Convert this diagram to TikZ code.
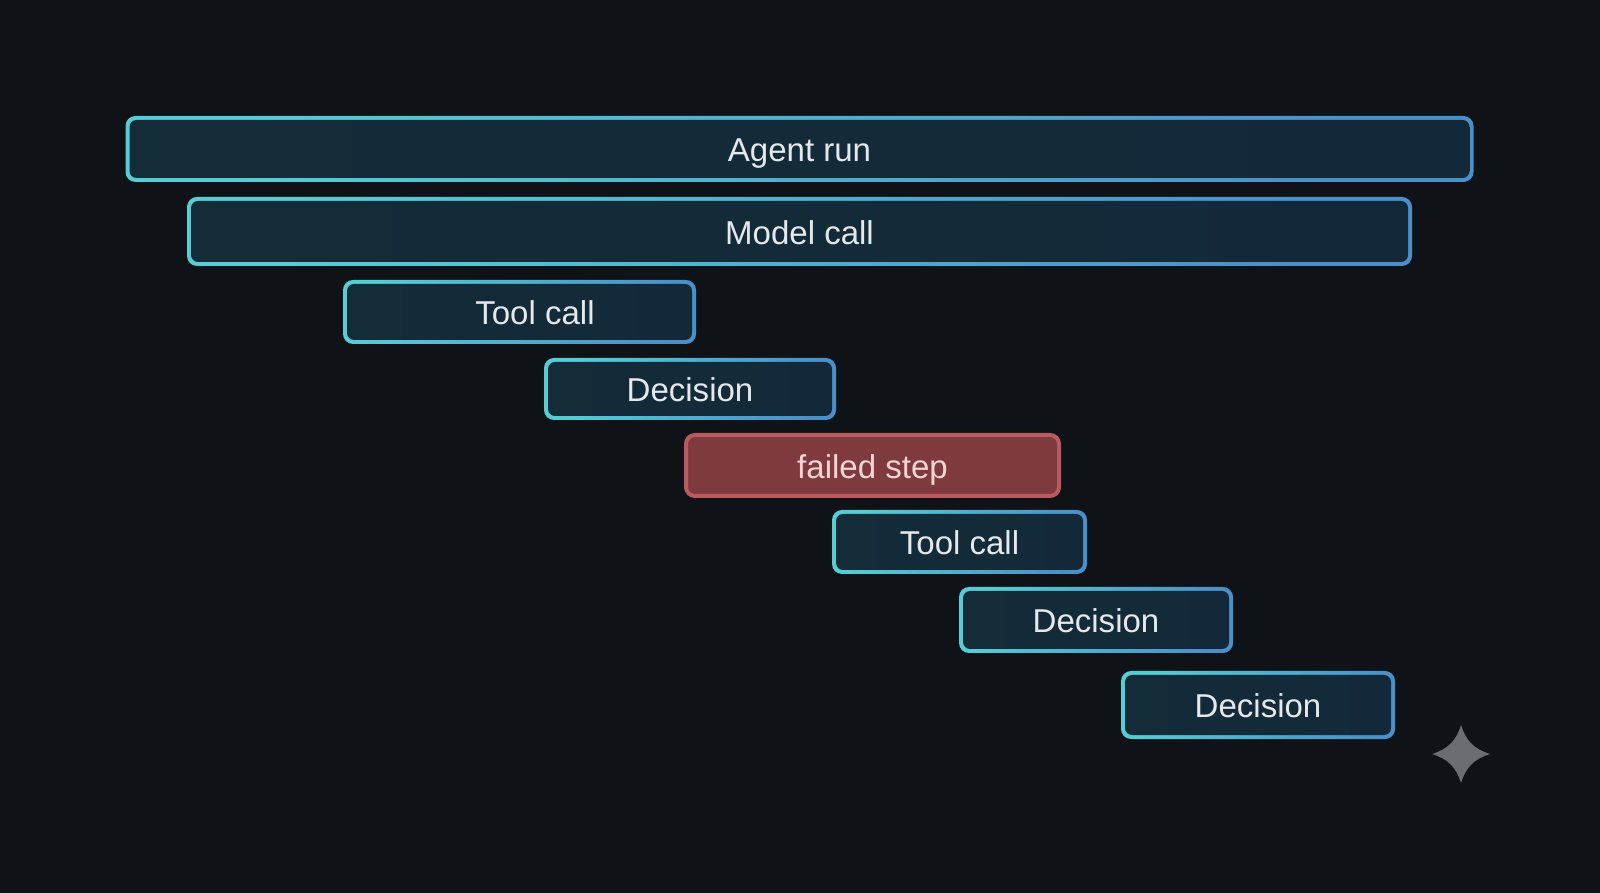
\documentclass[tikz,border=0pt]{standalone}
\usepackage{fontspec}
\setmainfont{Liberation Sans}
\usepackage{xcolor}
\usepackage{tikz}
\usetikzlibrary{calc}

\definecolor{pagebg}{HTML}{0F1318}
\definecolor{rimteal}{HTML}{55CDD4}
\definecolor{rimblue}{HTML}{4A90C8}
\definecolor{faceteal}{HTML}{132C38}
\definecolor{faceblue}{HTML}{13293A}
\definecolor{failface}{HTML}{7E3A3F}
\definecolor{failrim}{HTML}{B85A5F}
\definecolor{failtext}{HTML}{F5D5D3}
\definecolor{bartext}{HTML}{E6E9EC}
\definecolor{sparkle}{HTML}{6B6D73}

\begin{document}
\begin{tikzpicture}[font=\fontsize{9.4}{11}\selectfont, text height=7.2pt, text depth=0pt]
		\tikzstyle{bar} = [rectangle, rounded corners=0.1cm, inner sep=0, outer sep=0, text=bartext, left color=rimteal, right color=rimblue, shading angle=75,
			path picture={\shade[left color=faceteal, right color=faceblue, rounded corners=0.07cm] ([shift={(0.04,0.04)}]path picture bounding box.south west) rectangle ([shift={(-0.04,-0.04)}]path picture bounding box.north east);}]
		\tikzstyle{fail} = [rectangle, rounded corners=0.09cm, inner sep=0, outer sep=0, draw=failrim, line width=0.04cm, fill=failface, text=failtext]
		
		\fill[pagebg] (0, 0) rectangle (16, -8.93);
		\useasboundingbox (0, 0) rectangle (16, -8.93);
		
		\node[bar, minimum width=13.48cm, minimum height=0.66cm]	at (7.995, -1.49) 	(agent) 	{Agent run};
		\node[bar, minimum width=12.25cm, minimum height=0.69cm]	at (7.995, -2.315) 	(model) 	{Model call};
		\node[bar, minimum width=3.53cm, minimum height=0.64cm]	at (5.195, -3.12) 	(tool1) 	{\hspace{0.31cm}Tool call};
		\node[bar, minimum width=2.92cm, minimum height=0.62cm]	at (6.90, -3.89) 	(decision1) {Decision};
		\node[fail, minimum width=3.73cm, minimum height=0.61cm]	at (8.725, -4.655) 	(failed) 	{failed step};
		\node[bar, minimum width=2.55cm, minimum height=0.64cm]	at (9.595, -5.42) 	(tool2) 	{Tool call};
		\node[bar, minimum width=2.74cm, minimum height=0.66cm]	at (10.96, -6.20) 	(decision2) {Decision};
		\node[bar, minimum width=2.74cm, minimum height=0.68cm]	at (12.58, -7.05) 	(decision3) {Decision};
		
		\coordinate (star) at (14.61, -7.54);
		\fill[sparkle] ($(star)+(0, 0.29)$) .. controls ($(star)+(0.05, 0.13)$) and ($(star)+(0.13, 0.05)$) .. ($(star)+(0.29, 0)$)
			.. controls ($(star)+(0.13, -0.05)$) and ($(star)+(0.05, -0.13)$) .. ($(star)+(0, -0.29)$)
			.. controls ($(star)+(-0.05, -0.13)$) and ($(star)+(-0.13, -0.05)$) .. ($(star)+(-0.29, 0)$)
			.. controls ($(star)+(-0.13, 0.05)$) and ($(star)+(-0.05, 0.13)$) .. cycle;
	\end{tikzpicture}
\end{document}
